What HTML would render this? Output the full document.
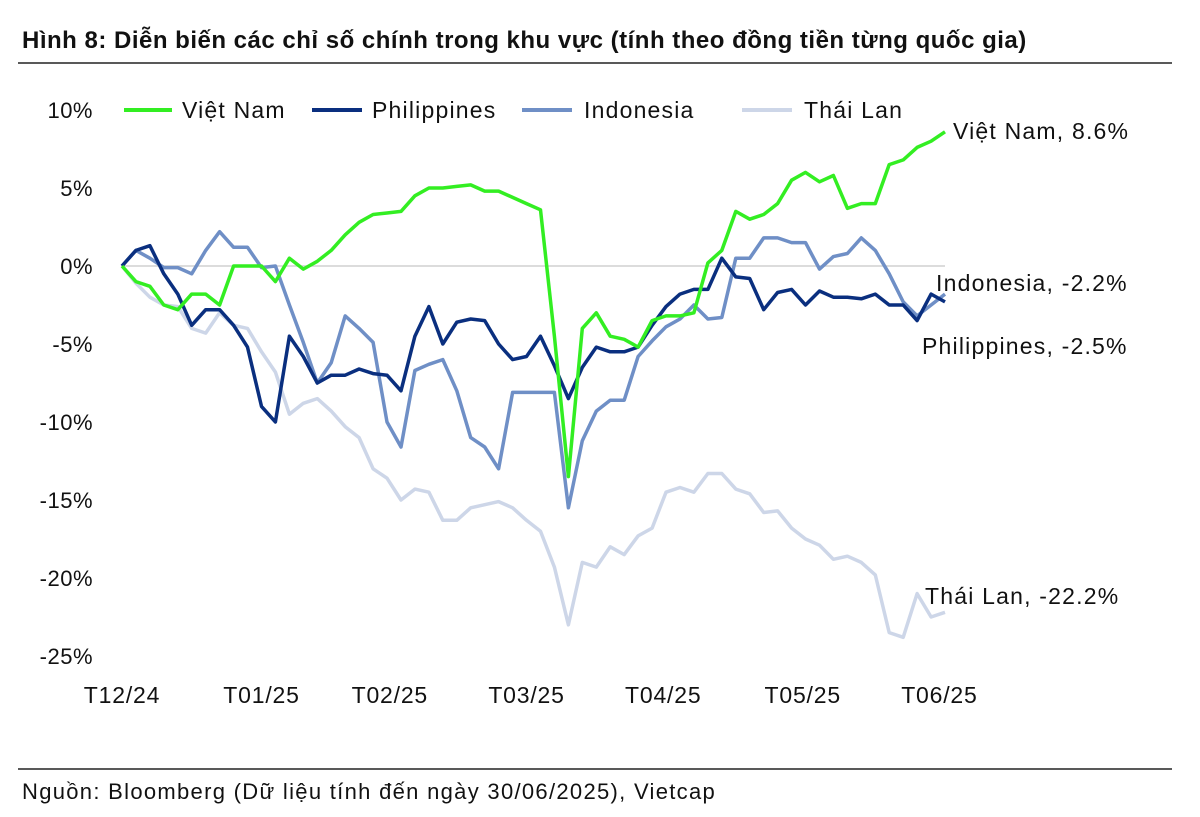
<!DOCTYPE html>
<html><head><meta charset="utf-8"><style>
body{margin:0;background:#fff;width:1200px;height:812px;overflow:hidden;font-family:"Liberation Sans","DejaVu Sans",sans-serif}
svg text{font-family:"Liberation Sans","DejaVu Sans",sans-serif;fill:#111}
</style></head><body>
<svg width="1200" height="812">
<text x="22" y="48" font-size="24" font-weight="bold" letter-spacing="0.5">Hình 8: Diễn biến các chỉ số chính trong khu vực (tính theo đồng tiền từng quốc gia)</text>
<line x1="18" y1="63" x2="1172" y2="63" stroke="#222" stroke-width="1.5"/>
<line x1="18" y1="769" x2="1172" y2="769" stroke="#222" stroke-width="1.5"/>
<text x="22" y="799" font-size="22" letter-spacing="1.3">Nguồn: Bloomberg (Dữ liệu tính đến ngày 30/06/2025), Vietcap</text>
<g id="yaxis"></g>
<g id="xaxis"></g>
<line id="zero" stroke="#d0d0d0" stroke-width="1.5"/>
<g id="series"></g>
<g font-size="23" letter-spacing="1.2">
<line x1="124" y1="110" x2="172" y2="110" stroke="#33ee22" stroke-width="4"/>
<text x="182" y="118">Việt Nam</text>
<line x1="312" y1="110" x2="362" y2="110" stroke="#0a2f7f" stroke-width="4"/>
<text x="372" y="118">Philippines</text>
<line x1="522" y1="110" x2="572" y2="110" stroke="#6f8fc6" stroke-width="4"/>
<text x="584" y="118">Indonesia</text>
<line x1="742" y1="110" x2="792" y2="110" stroke="#cdd6e8" stroke-width="4"/>
<text x="804" y="118">Thái Lan</text>
</g>
<g font-size="23" letter-spacing="1.2">
<text x="953" y="139">Việt Nam, 8.6%</text>
<text x="936" y="291">Indonesia, -2.2%</text>
<text x="922" y="354">Philippines, -2.5%</text>
<text x="925" y="604">Thái Lan,  -22.2%</text>
</g>
</svg>
<script>
const yTicks=[10,5,0,-5,-10,-15,-20,-25];
const xLabels=["T12/24","T01/25","T02/25","T03/25","T04/25","T05/25","T06/25"];
const xLabelIdx=[0,10,19.2,29,38.8,48.8,58.6];
const vietnam=[0,-1,-1.3,-2.5,-2.8,-1.8,-1.8,-2.5,0,0,0,-1,0.5,-0.2,0.3,1,2,2.8,3.3,3.4,3.5,4.5,5,5,5.1,5.2,4.8,4.8,4.4,4,3.6,-4.5,-13.5,-4,-3,-4.5,-4.7,-5.2,-3.5,-3.2,-3.2,-3,0.2,1,3.5,3,3.3,4,5.5,6,5.4,5.8,3.7,4,4,6.5,6.8,7.6,8,8.6];
const philippines=[0,1,1.3,-0.5,-1.8,-3.8,-2.8,-2.8,-3.8,-5.2,-9,-10,-4.5,-5.8,-7.5,-7,-7,-6.6,-6.9,-7,-8,-4.5,-2.6,-5,-3.6,-3.4,-3.5,-5,-6,-5.8,-4.5,-6.4,-8.5,-6.5,-5.2,-5.5,-5.5,-5.2,-3.8,-2.6,-1.8,-1.5,-1.5,0.5,-0.7,-0.8,-2.8,-1.7,-1.5,-2.5,-1.6,-2,-2,-2.1,-1.8,-2.5,-2.5,-3.5,-1.8,-2.3];
const indonesia=[0,1,0.5,-0.1,-0.1,-0.5,1,2.2,1.2,1.2,-0.1,0,-2.5,-4.9,-7.5,-6.2,-3.2,-4,-4.9,-10,-11.6,-6.7,-6.3,-6,-8,-11,-11.6,-13,-8.1,-8.1,-8.1,-8.1,-15.5,-11.2,-9.3,-8.6,-8.6,-5.8,-4.8,-3.9,-3.4,-2.5,-3.4,-3.3,0.5,0.5,1.8,1.8,1.5,1.5,-0.2,0.6,0.8,1.8,1,-0.5,-2.3,-3.2,-2.5,-1.8];
const thailand=[0,-1.1,-2,-2.5,-2.6,-4,-4.3,-3,-3.8,-4,-5.5,-6.8,-9.5,-8.8,-8.5,-9.3,-10.3,-11,-13,-13.6,-15,-14.3,-14.5,-16.3,-16.3,-15.5,-15.3,-15.1,-15.5,-16.3,-17,-19.3,-23,-19,-19.3,-18,-18.5,-17.3,-16.8,-14.5,-14.2,-14.5,-13.3,-13.3,-14.3,-14.6,-15.8,-15.7,-16.8,-17.5,-17.9,-18.8,-18.6,-19,-19.8,-23.5,-23.8,-21,-22.5,-22.2];
const N=vietnam.length;
const X0=122,X1=945;
function xs(i){return X0+(X1-X0)*i/(N-1);}
function ys(v){return 266-15.6*v;}
const NS='http://www.w3.org/2000/svg';
const ya=document.getElementById('yaxis');
yTicks.forEach(t=>{const e=document.createElementNS(NS,'text');
e.setAttribute('x',93);e.setAttribute('y',ys(t)+8);e.setAttribute('text-anchor','end');e.setAttribute('font-size','22');e.setAttribute('letter-spacing','0.5');


e.textContent=t+'%';ya.appendChild(e);});
const xa=document.getElementById('xaxis');
xLabels.forEach((l,k)=>{const e=document.createElementNS(NS,'text');
e.setAttribute('x',xs(xLabelIdx[k]));e.setAttribute('y',703);e.setAttribute('text-anchor','middle');e.setAttribute('font-size','23');e.setAttribute('letter-spacing','0.8');


e.textContent=l;xa.appendChild(e);});
const z=document.getElementById('zero');
z.setAttribute('x1',X0);z.setAttribute('x2',X1);z.setAttribute('y1',ys(0));z.setAttribute('y2',ys(0));
const sg=document.getElementById('series');
[[thailand,'#cdd6e8','line-thailand'],[indonesia,'#6f8fc6','line-indonesia'],[philippines,'#0a2f7f','line-philippines'],[vietnam,'#33ee22','line-vietnam']].forEach(s=>{
const p=document.createElementNS(NS,'polyline');
p.setAttribute('points',s[0].map((v,i)=>xs(i).toFixed(1)+','+ys(v).toFixed(1)).join(' '));
p.setAttribute('fill','none');p.setAttribute('stroke',s[1]);p.setAttribute('stroke-width','3.5');p.setAttribute('stroke-linejoin','round');


sg.appendChild(p);});
</script>
</body></html>
